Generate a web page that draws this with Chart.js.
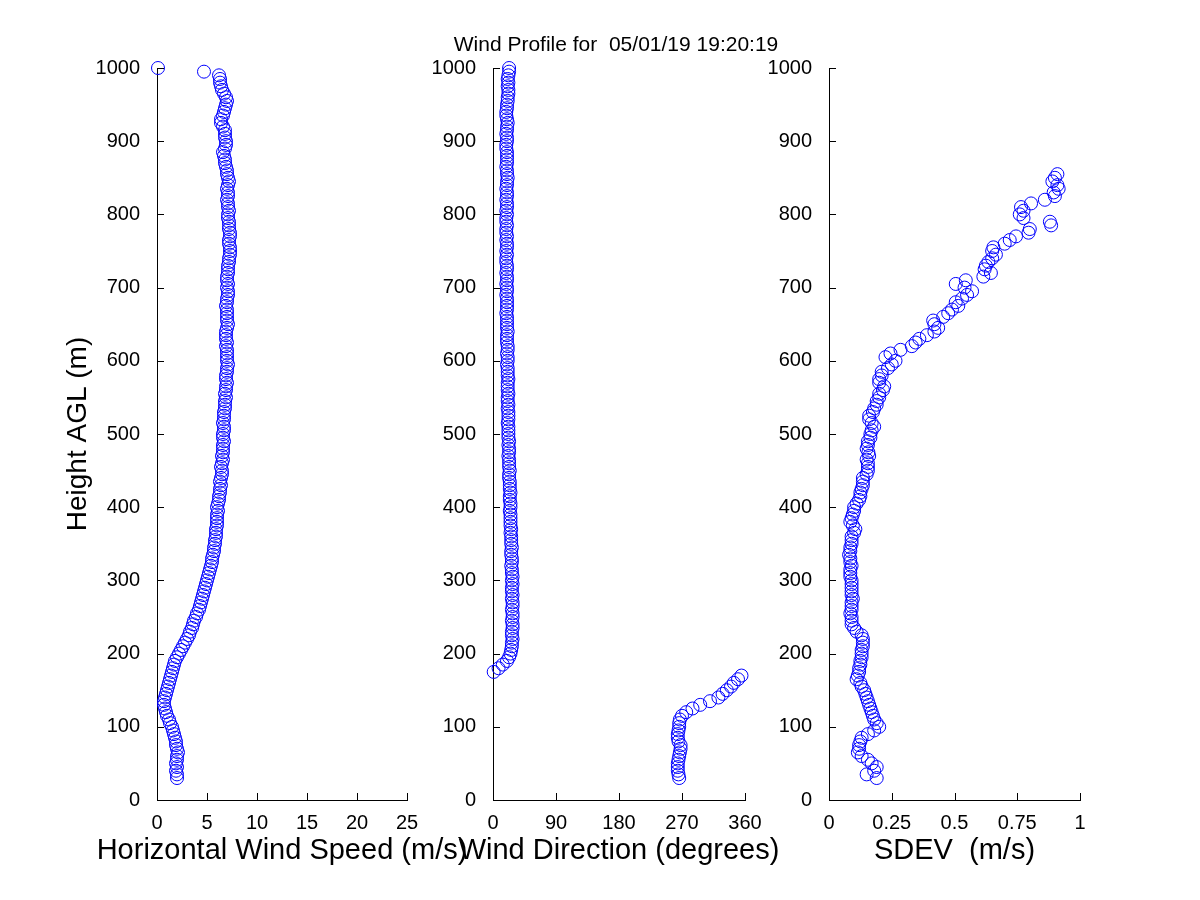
<!DOCTYPE html>
<html>
<head>
<meta charset="utf-8">
<title>Wind Profile</title>
<script src="https://cdn.jsdelivr.net/npm/chart.js@4.4.1/dist/chart.umd.min.js"></script>
<style>
  html, body { margin: 0; padding: 0; background: #fff; }
  #wrap { position: relative; width: 1200px; height: 900px; }
  #wrap canvas { position: absolute; left: 0; top: 0; }
</style>
</head>
<body>
<div id="wrap">
  <canvas id="speedChart" width="1200" height="900"></canvas>
  <canvas id="dirChart" width="1200" height="900"></canvas>
  <canvas id="sdevChart" width="1200" height="900"></canvas>
</div>
<script>
// Range gates (m AGL)
const heights = [
  30, 35, 40, 45, 50, 55, 60, 65, 70, 75,
  80, 85, 90, 95, 100, 105, 110, 115, 120, 125,
  130, 135, 140, 145, 150, 155, 160, 165, 170, 175,
  180, 185, 190, 195, 200, 205, 210, 215, 220, 225,
  230, 235, 240, 245, 250, 255, 260, 265, 270, 275,
  280, 285, 290, 295, 300, 305, 310, 315, 320, 325,
  330, 335, 340, 345, 350, 355, 360, 365, 370, 375,
  380, 385, 390, 395, 400, 405, 410, 415, 420, 425,
  430, 435, 440, 445, 450, 455, 460, 465, 470, 475,
  480, 485, 490, 495, 500, 505, 510, 515, 520, 525,
  530, 535, 540, 545, 550, 555, 560, 565, 570, 575,
  580, 585, 590, 595, 600, 605, 610, 615, 620, 625,
  630, 635, 640, 645, 650, 655, 660, 665, 670, 675,
  680, 685, 690, 695, 700, 705, 710, 715, 720, 725,
  730, 735, 740, 745, 750, 755, 760, 765, 770, 775,
  780, 785, 790, 795, 800, 805, 810, 815, 820, 825,
  830, 835, 840, 845, 850, 855, 860, 865, 870, 875,
  880, 885, 890, 895, 900, 905, 910, 915, 920, 925,
  930, 935, 940, 945, 950, 955, 960, 965, 970, 975,
  980, 985, 990, 995, 1000
];

// Horizontal wind speed (m/s)
const windSpeed = [
  2.0, 2.0, 1.9, 2.0, 1.9, 2.0, 2.0, 2.1, 2.0, 1.9,
  1.9, 1.8, 1.7, 1.6, 1.5, 1.3, 1.2, 1.0, 0.9, 0.8,
  0.7, 0.7, 0.8, 0.9, 1.0, 1.1, 1.2, 1.3, 1.4, 1.5,
  1.6, 1.7, 1.8, 2.0, 2.2, 2.4, 2.6, 2.8, 3.0, 3.2,
  3.3, 3.5, 3.6, 3.7, 3.9, 4.0, 4.2, 4.3, 4.4, 4.5,
  4.6, 4.7, 4.8, 4.9, 5.0, 5.1, 5.2, 5.3, 5.4, 5.5,
  5.5, 5.6, 5.7, 5.7, 5.8, 5.8, 5.9, 5.9, 5.9, 6.0,
  6.0, 6.0, 6.0, 6.1, 6.0, 6.1, 6.2, 6.2, 6.3, 6.3,
  6.4, 6.3, 6.4, 6.5, 6.5, 6.4, 6.5, 6.6, 6.5, 6.6,
  6.6, 6.6, 6.7, 6.6, 6.6, 6.7, 6.7, 6.6, 6.7, 6.7,
  6.7, 6.8, 6.8, 6.8, 6.9, 6.8, 6.9, 6.9, 7.0, 6.9,
  6.9, 7.0, 7.0, 7.1, 7.0, 7.0, 7.0, 7.0, 6.9, 7.0,
  6.9, 6.9, 6.9, 7.0, 7.1, 7.0, 7.0, 7.0, 7.0, 6.9,
  7.0, 7.0, 7.1, 7.1, 7.0, 7.1, 7.0, 7.0, 7.1, 7.1,
  7.1, 7.2, 7.2, 7.3, 7.3, 7.3, 7.2, 7.2, 7.3, 7.3,
  7.2, 7.2, 7.2, 7.1, 7.1, 7.2, 7.1, 7.1, 7.0, 7.1,
  7.1, 7.0, 7.1, 7.2, 7.1, 7.0, 7.0, 6.9, 6.8, 6.8,
  6.7, 6.6, 6.8, 6.9, 6.9, 6.8, 6.8, 6.8, 6.6, 6.4,
  6.4, 6.6, 6.7, 6.8, 6.9, 7.0, 6.9, 6.7, 6.5, 6.4,
  6.3, 6.3, 6.2, 4.7, 0.1
];

// Wind direction (degrees)
const windDir = [
  266, 265, 264, 264, 264, 265, 266, 267, 268, 268,
  265, 264, 264, 265, 266, 266, 267, 270, 276, 285,
  296, 310, 322, 328, 334, 340, 344, 350, 355, 1,
  8, 14, 20, 23, 25, 26, 27, 27, 28, 27,
  27, 28, 28, 27, 28, 28, 27, 28, 28, 27,
  28, 27, 27, 28, 27, 28, 27, 27, 26, 27,
  27, 26, 26, 27, 26, 26, 26, 25, 26, 25,
  25, 25, 25, 24, 25, 25, 24, 24, 25, 24,
  24, 24, 23, 23, 24, 23, 23, 23, 22, 23,
  23, 22, 23, 22, 22, 22, 22, 21, 22, 22,
  22, 21, 22, 21, 21, 22, 21, 21, 21, 22,
  21, 21, 21, 20, 21, 21, 20, 21, 21, 20,
  20, 20, 21, 20, 20, 20, 20, 19, 20, 20,
  20, 20, 19, 20, 20, 19, 20, 20, 19, 20,
  20, 19, 19, 20, 19, 20, 20, 19, 20, 19,
  19, 20, 19, 19, 20, 19, 20, 20, 19, 20,
  20, 19, 20, 20, 21, 20, 20, 19, 20, 20,
  20, 20, 19, 19, 20, 20, 19, 20, 20, 21,
  20, 19, 19, 20, 20, 21, 21, 22, 22, 21,
  22, 21, 22, 23, 23
];

// Standard deviation (m/s), null = no value
const sdev = [
  0.19, 0.15, 0.18, 0.19, 0.17, 0.155, 0.13, 0.115, 0.12, 0.12,
  0.125, 0.13, 0.155, 0.18, 0.2, 0.19, 0.18, 0.175, 0.17, 0.165,
  0.16, 0.155, 0.15, 0.145, 0.14, 0.13, 0.125, 0.11, 0.115, 0.12,
  0.12, 0.125, 0.125, 0.13, 0.13, 0.13, 0.135, 0.135, 0.135, 0.13,
  0.11, 0.1, 0.09, 0.09, 0.09, 0.085, 0.09, 0.09, 0.09, 0.095,
  0.09, 0.09, 0.09, 0.09, 0.09, 0.085, 0.085, 0.085, 0.09, 0.085,
  0.085, 0.08, 0.085, 0.085, 0.09, 0.09, 0.09, 0.1, 0.105, 0.095,
  0.085, 0.09, 0.095, 0.1, 0.1, 0.11, 0.12, 0.125, 0.125, 0.13,
  0.135, 0.135, 0.135, 0.15, 0.155, 0.155, 0.155, 0.15, 0.16, 0.157,
  0.15, 0.155, 0.155, 0.165, 0.165, 0.17, 0.18, 0.17, 0.16, 0.16,
  0.175, 0.18, 0.19, 0.19, 0.2, 0.2, 0.215, 0.22, 0.2, 0.2,
  0.21, 0.21, 0.235, 0.25, 0.265, 0.225, 0.245, 0.285, 0.33, 0.345,
  0.36, 0.39, 0.42, 0.435, 0.42, 0.415, 0.455, 0.475, 0.49, 0.515,
  0.505, 0.53, 0.55, 0.57, 0.54, 0.505, 0.545, 0.615, 0.645, 0.62,
  0.625, 0.635, 0.65, 0.665, 0.65, 0.655, 0.70, 0.72, 0.745, 0.795,
  0.80, 0.885, 0.88, 0.775, 0.76, 0.775, 0.765, 0.805, 0.86, 0.9,
  0.895, 0.915, 0.91, 0.89, 0.9, 0.91, null, null, null, null,
  null, null, null, null, null, null, null, null, null, null,
  null, null, null, null, null, null, null, null, null, null,
  null, null, null, null, null
];

const chartTitle = 'Wind Profile for  05/01/19 19:20:19';
const FAMILY = '"Liberation Sans", Arial, Helvetica, sans-serif';

Chart.defaults.color = '#000';
Chart.defaults.font.family = FAMILY;

// MATLAB style ticks pointing into the plot
const inwardTicks = {
  id: 'inwardTicks',
  afterDraw(chart) {
    const { ctx, chartArea } = chart;
    const xs = chart.scales.x;
    const ys = chart.scales.y;
    ctx.save();
    ctx.strokeStyle = '#000';
    ctx.lineWidth = 1;
    ctx.beginPath();
    xs.ticks.forEach(t => {
      const px = Math.round(xs.getPixelForValue(t.value)) + 0.5;
      ctx.moveTo(px, chartArea.bottom);
      ctx.lineTo(px, chartArea.bottom - 7);
    });
    ys.ticks.forEach(t => {
      const py = Math.round(ys.getPixelForValue(t.value)) + 0.5;
      ctx.moveTo(chartArea.left, py);
      ctx.lineTo(chartArea.left + 7, py);
    });
    ctx.stroke();
    ctx.restore();
  }
};

// Axis titles wider than the plot, so drawn here instead of scale titles
const axisText = {
  id: 'axisText',
  afterDraw(chart, args, o) {
    const { ctx, chartArea: a } = chart;
    const cx = (a.left + a.right) / 2;
    ctx.save();
    ctx.fillStyle = '#000';
    ctx.textAlign = 'center';
    ctx.textBaseline = 'middle';
    if (o.xTitle) {
      ctx.font = '29px ' + FAMILY;
      ctx.fillText(o.xTitle, cx, a.bottom + 51);
    }
    if (o.title) {
      ctx.font = '21px ' + FAMILY;
      ctx.fillText(o.title, cx - 3, a.top - 23);
    }
    if (o.yTitle) {
      ctx.font = '28px ' + FAMILY;
      ctx.translate(a.left - 79, (a.top + a.bottom) / 2);
      ctx.rotate(-Math.PI / 2);
      ctx.fillText(o.yTitle, 0, 0);
    }
    ctx.restore();
  }
};

function makePanel(canvasId, values, xMin, xMax, xStep, xTitle, left, right, padLeft, extra) {
  const points = [];
  heights.forEach((h, i) => {
    if (values[i] !== null) points.push({ x: values[i], y: h });
  });
  const tickFont = { size: 20, family: FAMILY };
  return new Chart(document.getElementById(canvasId), {
    type: 'scatter',
    data: {
      datasets: [{
        data: points,
        showLine: false,
        pointStyle: 'circle',
        pointRadius: 6.5,
        pointBorderWidth: 1,
        pointBorderColor: '#0000ff',
        pointBackgroundColor: 'rgba(0,0,0,0)',
        clip: false
      }]
    },
    options: {
      responsive: false,
      animation: false,
      events: [],
      layout: { padding: { left: padLeft, right: 1200 - right, top: 68, bottom: 60 } },
      plugins: {
        legend: { display: false },
        tooltip: { enabled: false },
        axisText: Object.assign({ xTitle: xTitle }, extra)
      },
      scales: {
        x: {
          type: 'linear',
          min: xMin,
          max: xMax,
          grid: { display: false },
          border: { display: true, color: '#000', width: 1 },
          ticks: {
            stepSize: xStep, autoSkip: false, maxRotation: 0, padding: 3,
            font: tickFont, color: '#000', callback: v => String(v)
          },
          afterFit: s => { s.height = 40; }
        },
        y: {
          type: 'linear',
          min: 0,
          max: 1000,
          grid: { display: false },
          border: { display: true, color: '#000', width: 1 },
          ticks: {
            stepSize: 100, autoSkip: false, padding: 9,
            font: tickFont, color: '#000', callback: v => String(v)
          },
          afterFit: s => { s.width = left - padLeft; }
        }
      }
    },
    plugins: [inwardTicks, axisText]
  });
}

const speedChart = makePanel('speedChart', windSpeed, 0, 25, 5,
  'Horizontal Wind Speed (m/s)', 157, 407, 40, { yTitle: 'Height AGL (m)' });

const dirChart = makePanel('dirChart', windDir, 0, 360, 90,
  'Wind Direction (degrees)', 493, 745, 433, { title: chartTitle });

const sdevChart = makePanel('sdevChart', sdev, 0, 1, 0.25,
  'SDEV  (m/s)', 829, 1080, 769, {});
</script>
</body>
</html>
